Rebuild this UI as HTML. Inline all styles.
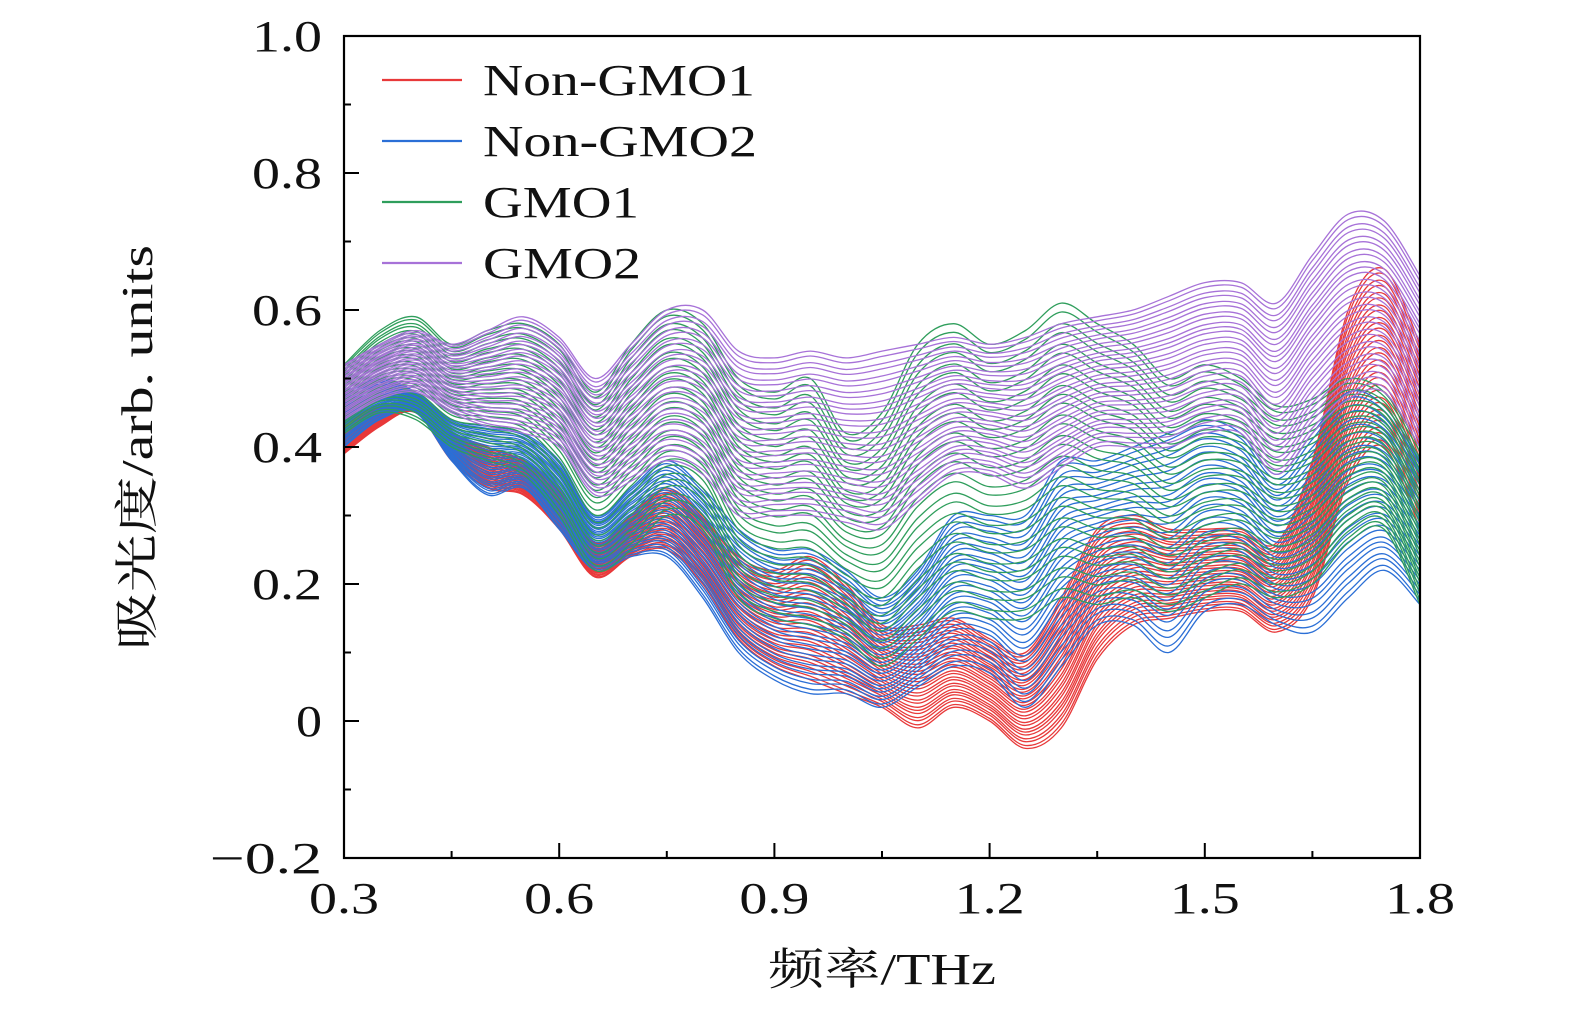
<!DOCTYPE html>
<html><head><meta charset="utf-8">
<style>
html,body{margin:0;padding:0;background:#fff;}
svg{display:block;}
text{font-family:"Liberation Serif","Noto Serif CJK SC",serif;fill:#111;}
</style></head>
<body>
<svg id="chart" width="1575" height="1014" viewBox="0 0 1575 1014">
  <g id="series"></g>
  <g id="axes"></g>
  <g id="legend"></g>
  <text x="768" y="984" font-size="44" textLength="228" lengthAdjust="spacingAndGlyphs">频率/THz</text>
  <text transform="translate(152,650) rotate(-90)" font-size="44" textLength="405" lengthAdjust="spacingAndGlyphs">吸光度/arb. units</text>
</svg>
<script>
const freqs=[0.30,0.35,0.40,0.45,0.50,0.55,0.60,0.65,0.70,0.75,0.80,0.85,0.90,0.95,1.00,1.05,1.10,1.15,1.20,1.25,1.30,1.35,1.40,1.45,1.50,1.55,1.60,1.65,1.70,1.75,1.80];
const hiN1=[.44,.46,.46,.42,.40,.38,.34,.26,.30,.34,.30,.24,.22,.24,.20,.14,.14,.15,.12,.10,.18,.28,.30,.28,.28,.28,.26,.38,.60,.66,.55];
const loN1=[.39,.43,.45,.38,.34,.33,.28,.21,.24,.25,.20,.12,.08,.06,.04,.02,-.01,.02,.00,-.04,-.01,.09,.14,.15,.16,.16,.13,.18,.35,.40,.28];
const hiN2=[.48,.50,.48,.44,.43,.42,.38,.30,.34,.38,.34,.28,.25,.25,.22,.18,.22,.30,.30,.30,.38,.38,.40,.42,.44,.42,.36,.42,.48,.46,.38];
const loN2=[.40,.44,.45,.38,.33,.34,.28,.22,.24,.24,.18,.10,.06,.04,.04,.02,.05,.08,.07,.02,.08,.14,.14,.10,.16,.17,.14,.13,.18,.22,.17];
const hiG1=[.52,.57,.59,.55,.57,.58,.55,.48,.55,.60,.58,.50,.48,.50,.42,.45,.55,.58,.55,.57,.61,.58,.55,.50,.52,.50,.46,.47,.50,.48,.40];
const loG1=[.42,.45,.44,.40,.38,.36,.30,.22,.25,.30,.28,.18,.15,.14,.12,.08,.12,.16,.15,.15,.18,.17,.18,.16,.18,.20,.18,.20,.26,.28,.17];
const hiG2=[.52,.55,.57,.55,.57,.59,.56,.50,.55,.60,.60,.54,.53,.54,.53,.54,.55,.56,.55,.56,.58,.59,.60,.62,.64,.64,.61,.68,.74,.73,.65];
const loG2=[.44,.47,.48,.45,.43,.42,.40,.33,.35,.38,.36,.30,.30,.30,.29,.28,.32,.36,.36,.34,.37,.40,.40,.40,.42,.42,.36,.42,.47,.48,.40];
const fracs=[0,0.03,0.07,0.1,0.14,0.17,0.2,0.24,0.27,0.31,0.34,0.38,0.41,0.45,0.48,0.52,0.55,0.59,0.62,0.66,0.69,0.72,0.76,0.79,0.83,0.86,0.9,0.93,0.97,1];
const groupNames=["Non-GMO1","Non-GMO2","GMO1","GMO2"];
const xTicks=[0.3,0.6,0.9,1.2,1.5,1.8];
const xTickLabels=["0.3","0.6","0.9","1.2","1.5","1.8"];
const yTicks=[-0.2,0,0.2,0.4,0.6,0.8,1.0];
const yTickLabels=["\u22120.2","0","0.2","0.4","0.6","0.8","1.0"];

const NS="http://www.w3.org/2000/svg";
const X0=344,X1=1420,Y0=858,Y1=36;
const xs=v=>X0+(v-0.3)/(1.5)*(X1-X0);
const ys=v=>Y0-(v+0.2)/1.2*(Y0-Y1);
const colors=["#e8393a","#2b6fd6","#2f9e5c","#a772d8"];
const groups=[[loN1,hiN1],[loN2,hiN2],[loG1,hiG1],[loG2,hiG2]];

function pathD(vals){
  const p=vals.map((v,i)=>[xs(freqs[i]),ys(v)]);
  let d="M"+p[0][0].toFixed(1)+","+p[0][1].toFixed(1);
  for(let i=0;i<p.length-1;i++){
    const a=p[Math.max(0,i-1)],b=p[i],c=p[i+1],e=p[Math.min(p.length-1,i+2)];
    const c1=[b[0]+(c[0]-a[0])/6,b[1]+(c[1]-a[1])/6];
    const c2=[c[0]-(e[0]-b[0])/6,c[1]-(e[1]-b[1])/6];
    d+="C"+c1[0].toFixed(1)+","+c1[1].toFixed(1)+" "+c2[0].toFixed(1)+","+c2[1].toFixed(1)+" "+c[0].toFixed(1)+","+c[1].toFixed(1);
  }
  return d;
}
const sg=document.getElementById("series");
groups.forEach((g,gi)=>{
  const grp=document.createElementNS(NS,"g");
  
  
  fracs.forEach((f,k)=>{
    const vals=g[0].map((lo,i)=>lo+f*(g[1][i]-lo));
    const pth=document.createElementNS(NS,"path");
    pth.setAttribute("d",pathD(vals));
    pth.setAttribute("fill","none");
    pth.setAttribute("stroke",colors[gi]);
    pth.setAttribute("stroke-width","1.3");
    
    
    grp.appendChild(pth);
  });
  sg.appendChild(grp);
});

const ag=document.getElementById("axes");
function el(tag,attrs,parent){const e=document.createElementNS(NS,tag);for(const k in attrs)e.setAttribute(k,attrs[k]);parent.appendChild(e);return e;}
const frame=el("rect",{x:X0,y:Y1,width:X1-X0,height:Y0-Y1,fill:"none",stroke:"#000","stroke-width":2.2},ag);


xTicks.forEach((v,i)=>{
  const t=el("line",{x1:xs(v),x2:xs(v),y1:Y0,y2:Y0-15,stroke:"#000","stroke-width":2},ag);
  
  
  if(i<xTicks.length-1){
    const m=el("line",{x1:xs(v+0.15),x2:xs(v+0.15),y1:Y0,y2:Y0-7,stroke:"#000","stroke-width":2},ag);
    
    
  }
  const tx=el("text",{x:xs(v)-35,y:913,"font-size":44,textLength:70,lengthAdjust:"spacingAndGlyphs"},ag);
  tx.textContent=xTickLabels[i];
  
  
});
yTicks.forEach((v,i)=>{
  const t=el("line",{x1:X0,x2:X0+15,y1:ys(v),y2:ys(v),stroke:"#000","stroke-width":2},ag);
  
  
  if(i<yTicks.length-1){
    const m=el("line",{x1:X0,x2:X0+7,y1:ys(v+0.1),y2:ys(v+0.1),stroke:"#000","stroke-width":2},ag);
    
    
  }
  const lab=yTickLabels[i];
  const w=lab.length===1?26:(lab.length===3?70:112);
  const tx=el("text",{x:322-w,y:ys(v)+15,"font-size":44,textLength:w,lengthAdjust:"spacingAndGlyphs"},ag);
  tx.textContent=lab;
  
  
});

const lg=document.getElementById("legend");
const legW=[272,274,156,158];
groupNames.forEach((n,i)=>{
  const y=80+i*61;
  const ln=el("line",{x1:382,x2:462,y1:y,y2:y,stroke:colors[i],"stroke-width":2.2},lg);
  
  
  const tx=el("text",{x:483,y:y+15,"font-size":44,textLength:legW[i],lengthAdjust:"spacingAndGlyphs"},lg);
  tx.textContent=n;
  
  
});
</script>
</body></html>
